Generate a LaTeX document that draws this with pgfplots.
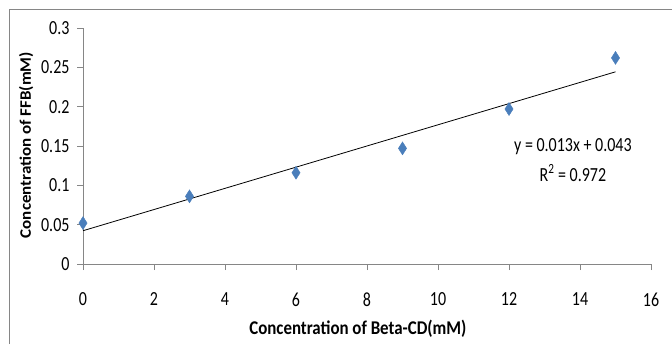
\documentclass[border=0pt]{standalone}
\usepackage{graphicx}
\usepackage{pgfplots}
\pgfplotsset{compat=1.18}
\usepackage{fontspec}
\setmainfont{Carlito}
\definecolor{axgray}{HTML}{868686}
\definecolor{mblue}{HTML}{4A7EBB}
\newcommand\st[1]{\scalebox{1}[1.25]{#1}}
\begin{document}
\begin{tikzpicture}[x=1bp,y=1bp]
\path[use as bounding box] (0,0) rectangle (672,344);
\draw[axgray, line width=1bp] (9.5,0) -- (9.5,334.5) -- (672,334.5);
\begin{axis}[
  at={(83bp,80bp)}, anchor=origin,
  scale only axis, width=568bp, height=236bp,
  xmin=0, xmax=16, ymin=0, ymax=0.3,
  axis lines*=left,
  axis line style={axgray, line width=0.8bp, -},
  xtick={0,2,...,16}, ytick={0,0.05,...,0.3},
  tick align=outside, major tick length=6bp,
  tick style={axgray, line width=0.8bp},
  ticklabel style={font=\fontsize{16bp}{18bp}\selectfont, text=black},
  xticklabel style={yshift=-19bp},
  yticklabel style={xshift=-4bp},
  xticklabels={\st{0},\st{2},\st{4},\st{6},\st{8},\st{10},\st{12},\st{14},\st{16}},
  yticklabels={\st{0},\st{0.05},\st{0.1},\st{0.15},\st{0.2},\st{0.25},\st{0.3}},
  xlabel={\scalebox{1}[1.15]{Concentration of Beta-CD(mM)}},
  ylabel={\scalebox{1.06}[1]{Concentration of FFB(mM)}},
  xlabel style={at={(axis description cs:0.484,-0.275)}, anchor=center, font=\bfseries\fontsize{16.9bp}{18bp}\selectfont},
  ylabel style={at={(axis description cs:-0.100,0.504)}, anchor=center, rotate=0, font=\bfseries\fontsize{16bp}{18bp}\selectfont},
  clip=false,
]
\addplot[black, line width=0.8bp] coordinates {(0,0.0423) (15,0.2443)};
\addplot[only marks, mark=diamond*, mark size=5.5bp, mark options={fill=mblue, draw=mblue, yscale=1.18}] coordinates {
(0,0.052) (3,0.086) (6,0.116) (9,0.147) (12,0.197) (15,0.262)};
\node[font=\fontsize{16bp}{18bp}\selectfont] at (axis cs:13.8,0.1487) {\st{y = 0.013x + 0.043}};
\node[font=\fontsize{16bp}{18bp}\selectfont] at (axis cs:13.8,0.1157) {\st{R\textsuperscript{2} = 0.972}};
\end{axis}
\end{tikzpicture}
\end{document}
